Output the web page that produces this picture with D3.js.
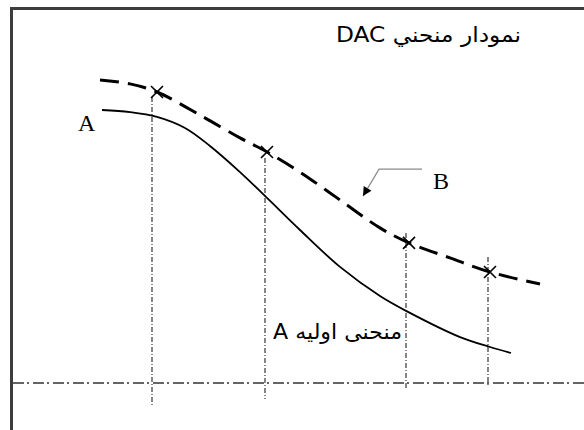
<!DOCTYPE html>
<html>
<head>
<meta charset="utf-8">
<script src="https://cdn.jsdelivr.net/npm/d3@7"></script>
<style>
  html, body { margin: 0; padding: 0; background: #fff; }
  svg { display: block; }
</style>
</head>
<body>
<div id="chart"></div>
<script>
// ---- data (chart units) ----
const titleText = "نمودار منحني DAC";
const initialLabel = "منحنی اولیه A";
const labelA = "A";
const labelB = "B";

// dashed DAC curve B
const bX = [18, 24, 29.4, 38, 46, 51.4, 58, 66, 74, 79.8, 88, 96, 106];
const bY = [101, 99.7, 97, 89.3, 81.7, 77, 70.3, 61, 51.7, 46.7, 41.7, 37, 33];

// solid initial curve A
const aX = [18.4, 24, 29.4, 35, 40, 46, 51.4, 58, 66, 74, 79.6, 90, 96, 100.2];
const aY = [91, 90.3, 88.7, 85, 79, 70.3, 61.7, 51, 38.7, 29, 23.7, 15.3, 12, 10];

// reference points (x marks)
const markX = [29.4, 51.4, 79.8, 96];
const markY = [97, 77, 46.7, 37];

// vertical guide lines
const guideX = [28.4, 51, 79.2, 95.6];
const guideTop = [95.3, 75, 50, 42];
const guideBottom = [-8, -5.3, -2, -0.7];

// baseline level
const baseY = [0];

// leader arrow for B
const arrowX = [82.4, 73.8, 70.6];
const arrowY = [71.3, 71.3, 62.3];

// ---- drawing ----
const W = 584, H = 430;
const svg = d3.select("#chart").append("svg").attr("width", W).attr("height", H);

const x = d3.scaleLinear().domain([0, 100]).range([10, 510]);
const y = d3.scaleLinear().domain([0, 100]).range([383, 83]);

// frame
svg.append("rect")
  .attr("x", 11.5).attr("y", 8.5)
  .attr("width", W + 20).attr("height", H + 20)
  .attr("fill", "none").attr("stroke", "#3d3d3d").attr("stroke-width", 3);

// horizontal dash-dot baseline
svg.selectAll(".base").data(baseY).enter().append("line")
  .attr("x1", 13).attr("x2", W)
  .attr("y1", d => y(d)).attr("y2", d => y(d))
  .attr("stroke", "#333").attr("stroke-width", 1.4)
  .attr("stroke-dasharray", "11,3,2,4");

// vertical dash-dot guides
svg.selectAll(".guide").data(guideX).enter().append("line")
  .attr("x1", d => x(d)).attr("x2", d => x(d))
  .attr("y1", (d, i) => y(guideTop[i])).attr("y2", (d, i) => y(guideBottom[i]))
  .attr("stroke", "#444").attr("stroke-width", 1.3)
  .attr("stroke-dasharray", "5,2,1,2");

const line = d3.line().x(d => x(d[0])).y(d => y(d[1])).curve(d3.curveCatmullRom.alpha(0.5));

// solid curve A
svg.append("path")
  .attr("d", line(aX.map((v, i) => [v, aY[i]])))
  .attr("fill", "none").attr("stroke", "#000").attr("stroke-width", 1.8);

// dashed curve B
svg.append("path")
  .attr("d", line(bX.map((v, i) => [v, bY[i]])))
  .attr("fill", "none").attr("stroke", "#000").attr("stroke-width", 3)
  .attr("stroke-dasharray", "19,9");

// x marks
const s = 6;
const marks = svg.selectAll(".mark").data(markX).enter().append("g")
  .attr("transform", (d, i) => `translate(${x(d)},${y(markY[i])})`);
marks.append("path")
  .attr("d", `M${-s},${-s}L${s},${s}M${-s},${s}L${s},${-s}`)
  .attr("stroke", "#000").attr("stroke-width", 1.6).attr("fill", "none");

// arrow marker
svg.append("defs").append("marker")
  .attr("id", "ah").attr("viewBox", "0 0 10 10")
  .attr("refX", 10).attr("refY", 5)
  .attr("markerWidth", 11).attr("markerHeight", 9)
  .attr("markerUnits", "userSpaceOnUse")
  .attr("orient", "auto")
  .append("path").attr("d", "M0,0L10,5L0,10Z").attr("fill", "#000");

svg.append("path")
  .attr("d", d3.line()(arrowX.map((v, i) => [x(v), y(arrowY[i])])))
  .attr("fill", "none").attr("stroke", "#8a8a8a").attr("stroke-width", 1.2)
  .attr("marker-end", "url(#ah)");

// labels
svg.append("text").text(labelA)
  .attr("x", x(13.6)).attr("y", y(84))
  .attr("font-family", "Liberation Serif").attr("font-size", 24).attr("fill", "#000");

svg.append("text").text(labelB)
  .attr("x", x(84.6)).attr("y", y(64.7))
  .attr("font-family", "Liberation Serif").attr("font-size", 24).attr("fill", "#000");

svg.append("text").text(titleText)
  .attr("x", x(102.2)).attr("y", y(113.7))
  .attr("direction", "rtl").attr("text-anchor", "start")
  .attr("font-family", "DejaVu Sans").attr("font-size", 21).attr("fill", "#000")
  .attr("textLength", 185).attr("lengthAdjust", "spacingAndGlyphs");

svg.append("text").text(initialLabel)
  .attr("x", x(65.5)).attr("y", y(14.7))
  .attr("direction", "rtl").attr("text-anchor", "middle")
  .attr("font-family", "DejaVu Sans").attr("font-size", 21).attr("fill", "#000")
  .attr("textLength", 129).attr("lengthAdjust", "spacingAndGlyphs");
</script>
</body>
</html>
